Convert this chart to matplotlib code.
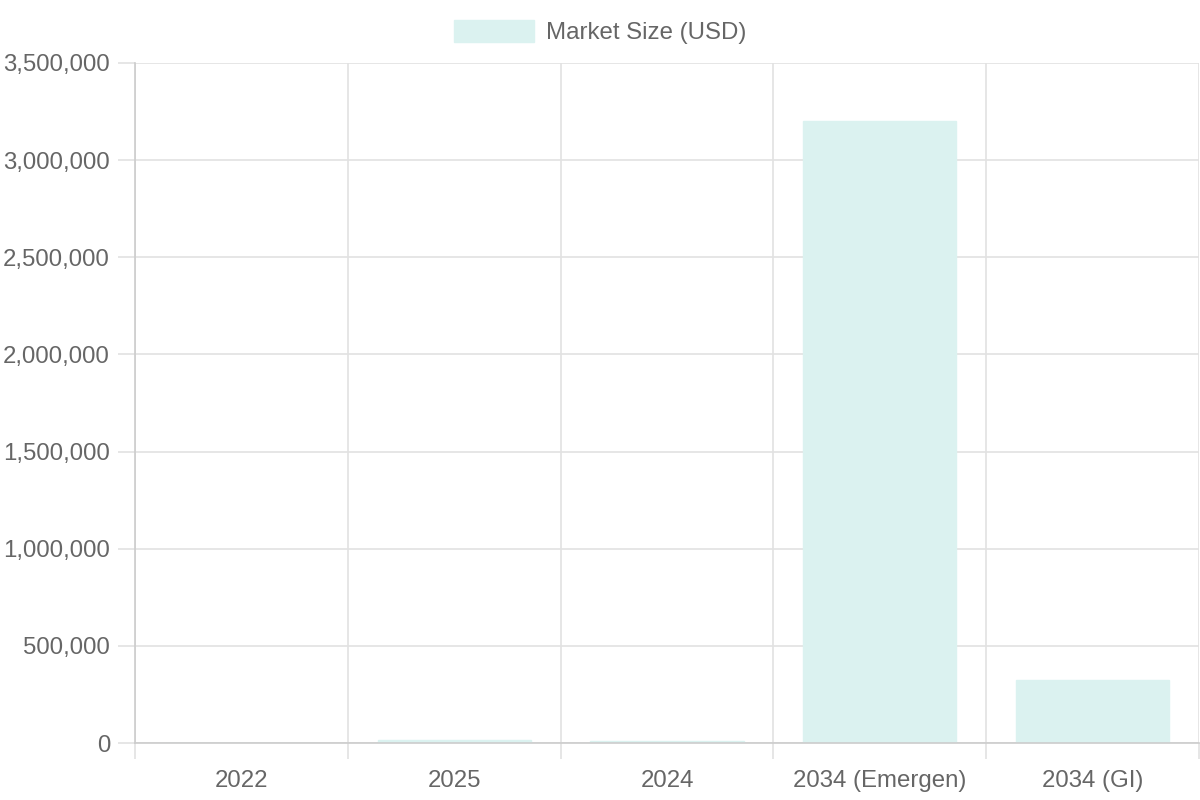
import matplotlib
matplotlib.use("Agg")
import matplotlib.pyplot as plt
from matplotlib.ticker import FuncFormatter, MultipleLocator, FixedLocator

categories = ["2022", "2025", "2024", "2034 (Emergen)", "2034 (GI)"]
market_size = [800, 17500, 8500, 3200000, 322000]
series_label = "Market Size (USD)"

plt.rcParams['font.family'] = ['Liberation Sans', 'DejaVu Sans']
FS = 17.3
TXT = "#666666"
GRID = "#e2e2e2"
AXIS = "#cccccc"
FILL = "#dbf2f0"
PX = 0.72  # points per pixel at dpi 100

fig = plt.figure(figsize=(12, 8), dpi=100)
ax = fig.add_axes([135/1200, 1-743/800, (1199-135)/1200, (743-63)/800])

x = list(range(len(categories)))
ax.bar(x, market_size, width=0.72, color=FILL, edgecolor=FILL, linewidth=1, zorder=2,
       label=series_label)

ax.set_xlim(-0.5, len(categories) - 0.5)
ax.set_ylim(0, 3500000)
ax.yaxis.set_major_locator(MultipleLocator(500000))
ax.yaxis.set_major_formatter(FuncFormatter(lambda v, p: f"{int(v):,}"))
ax.set_xticks(x)
ax.set_xticklabels(categories)
ax.xaxis.set_minor_locator(FixedLocator([i - 0.5 for i in range(len(categories) + 1)]))

ax.grid(False)
ax.grid(axis='y', which='major', color=GRID, linewidth=1.2, zorder=0)
ax.grid(axis='x', which='minor', color=GRID, linewidth=1.2, zorder=0)

ax.tick_params(axis='x', which='major', length=0, pad=27*PX, labelsize=FS, labelcolor=TXT)
ax.tick_params(axis='x', which='minor', length=16*PX, width=1.2, color=GRID)
ax.tick_params(axis='y', which='major', length=17*PX, width=1.2, color=GRID, pad=8*PX,
               labelsize=FS, labelcolor=TXT)

for s in ['top', 'right']:
    ax.spines[s].set_visible(False)
ax.spines['left'].set_color(AXIS)
ax.spines['bottom'].set_color(AXIS)
ax.spines['left'].set_linewidth(1.2)
ax.spines['bottom'].set_linewidth(1.2)

leg = fig.legend(loc='center', bbox_to_anchor=(0.5, 1-32/800), frameon=False,
                 fontsize=FS, handlelength=80/24, handleheight=1.0, handletextpad=0.5,
                 borderpad=0, labelcolor=TXT)

fig.savefig("out.png", dpi=100, facecolor='white')
